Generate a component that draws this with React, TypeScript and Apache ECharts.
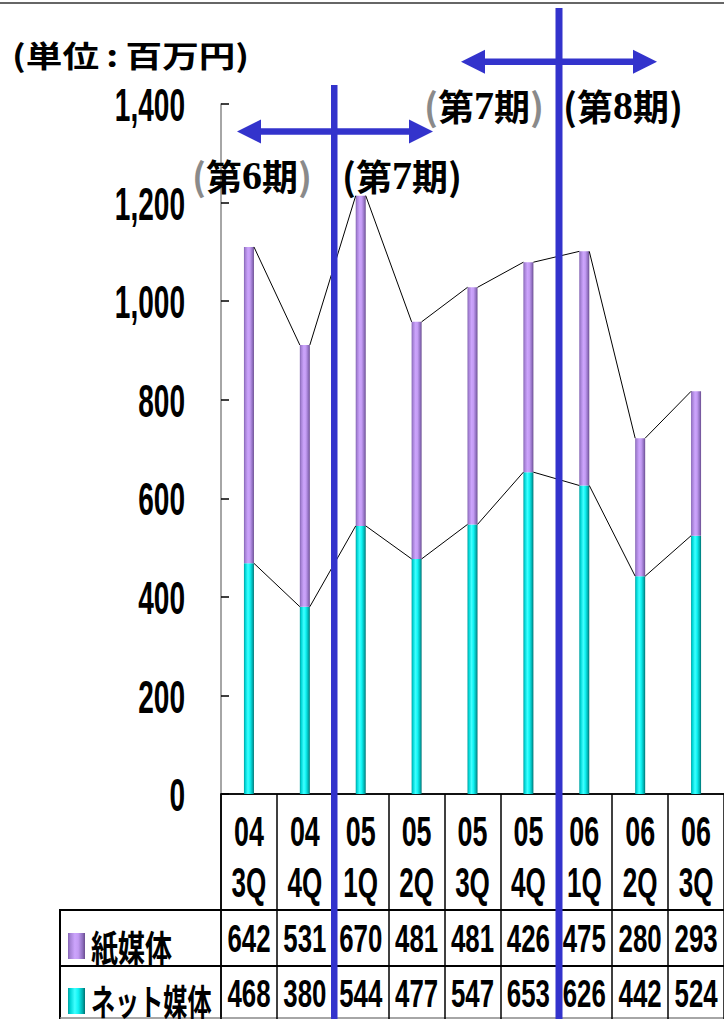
import React, { useEffect, useRef } from "react";
import * as echarts from "echarts";

const years = ["04", "04", "05", "05", "05", "05", "06", "06", "06"];
const quarters = ["3Q", "4Q", "1Q", "2Q", "3Q", "4Q", "1Q", "2Q", "3Q"];
const paper = [642, 531, 670, 481, 481, 426, 475, 280, 293];
const net = [468, 380, 544, 477, 547, 653, 626, 442, 524];
const seriesNames = ["紙媒体", "ネット媒体"];
const unitLabel = "(単位\u2009:\u2009百万円)";
const yMin = 0;
const yMax = 1400;
const yInterval = 200;

const NUM_FONT = "'Liberation Sans', Arial, sans-serif";
const JP_FONT = "'Noto Sans CJK JP', sans-serif";
const BLUE = "#3333CC";
const BAR_W = 10;

const purpleGrad = {
  type: "linear", x: 0, y: 0, x2: 1, y2: 0,
  colorStops: [
    { offset: 0, color: "#8464B4" },
    { offset: 0.15, color: "#A884D8" },
    { offset: 0.4, color: "#CCA4FC" },
    { offset: 0.6, color: "#C49CF4" },
    { offset: 0.85, color: "#9070C0" },
    { offset: 1, color: "#6A4C8E" },
  ],
};
const cyanGrad = {
  type: "linear", x: 0, y: 0, x2: 1, y2: 0,
  colorStops: [
    { offset: 0, color: "#00A0A0" },
    { offset: 0.15, color: "#00D8D8" },
    { offset: 0.4, color: "#40FFFF" },
    { offset: 0.6, color: "#10F4F4" },
    { offset: 0.85, color: "#00B0B0" },
    { offset: 1, color: "#007070" },
  ],
};

function periodLabel(x: number, y: number, num: string, parenColor: string) {
  return {
    type: "text",
    x,
    y,
    z: 12,
    style: {
      text: `{p|(}{c|第}{d|${num}}{c|期}{p|)}`,
      verticalAlign: "middle",
      rich: {
        p: { fontFamily: JP_FONT, fontSize: 37, fontWeight: "bold", fill: parenColor },
        c: { fontFamily: JP_FONT, fontSize: 36, fontWeight: "bold", fill: "#000" },
        d: { fontFamily: "'Liberation Serif', serif", fontSize: 40, fontWeight: "bold", fill: "#000" },
      },
    },
  };
}

function arrow(xl: number, xr: number, yc: number) {
  const head = 24;
  const hh = 12;
  return [
    { type: "rect", shape: { x: xl + head - 2, y: yc - 3.2, width: xr - xl - 2 * head + 4, height: 6.4 }, style: { fill: BLUE } },
    { type: "polygon", shape: { points: [[xl, yc], [xl + head, yc - hh], [xl + head, yc + hh]] }, style: { fill: BLUE } },
    { type: "polygon", shape: { points: [[xr, yc], [xr - head, yc - hh], [xr - head, yc + hh]] }, style: { fill: BLUE } },
  ];
}

function numText(x: number, y: number, text: string, size: number, sx: number, align: string) {
  return {
    type: "text",
    x,
    y,
    scaleX: sx,
    z: 5,
    style: {
      text,
      fontFamily: NUM_FONT,
      fontWeight: "bold",
      fontSize: size,
      lineHeight: size,
      fill: "#000",
      align,
      verticalAlign: "middle",
    },
  };
}

export default function App() {
  const ref = useRef<HTMLDivElement>(null);
  useEffect(() => {
    if (!ref.current) return;
    const chart = echarts.init(ref.current, null, { renderer: "svg" });
    const categories = years.map((y, i) => `${y}\n${quarters[i]}`);
    const totals = paper.map((p, i) => p + net[i]);
    const netLine = net.slice(0, -1).map((v, i) => [i, v, net[i + 1]]);
    const totalLine = totals.slice(0, -1).map((v, i) => [i, v, totals[i + 1]]);

    const renderSeg = (params: any, api: any) => {
      const i = api.value(0);
      const a = api.coord([i, api.value(1)]);
      const b = api.coord([i + 1, api.value(2)]);
      return {
        type: "line",
        shape: { x1: a[0] + BAR_W / 2, y1: a[1], x2: b[0] - BAR_W / 2, y2: b[1] },
        style: { stroke: "#000", lineWidth: 1 },
      };
    };

    const tableAxis = (data: string[], offset: number) => ({
      type: "category",
      data,
      position: "bottom",
      offset,
      axisLine: { show: true, lineStyle: { color: "#000", width: 2 } },
      axisTick: { show: true, interval: 0, alignWithLabel: false, length: 56, lineStyle: { color: "#000", width: 1.5 } },
      axisLabel: { show: false },
      splitLine: { show: false },
    });

    const option: any = {
      animation: false,
      backgroundColor: "#fff",
      grid: { left: 221, top: 104, width: 505, height: 690, containLabel: false },
      xAxis: [
        {
          type: "category",
          data: categories,
          position: "bottom",
          axisLine: { show: true, lineStyle: { color: "#111", width: 2 } },
          axisTick: { show: true, interval: 0, alignWithLabel: false, length: 116, lineStyle: { color: "#000", width: 1.5 } },
          axisLabel: { show: false },
          splitLine: { show: false },
        },
        tableAxis(paper.map(String), 116),
        tableAxis(net.map(String), 172),
      ],
      yAxis: {
        type: "value",
        min: yMin,
        max: yMax,
        interval: yInterval,
        axisLine: { show: true, lineStyle: { color: "#888", width: 1.5 } },
        axisTick: { show: true, inside: true, length: 8, lineStyle: { color: "#000", width: 1.5 } },
        axisLabel: { show: false },
        splitLine: { show: false },
      },
      series: [
        { name: seriesNames[1], type: "bar", stack: "total", barWidth: BAR_W, data: net, itemStyle: { color: cyanGrad }, z: 3 },
        { name: seriesNames[0], type: "bar", stack: "total", barWidth: BAR_W, data: paper, itemStyle: { color: purpleGrad }, z: 3 },
        { type: "custom", data: netLine, encode: { x: 0, y: 1 }, renderItem: renderSeg, z: 4, silent: true },
        { type: "custom", data: totalLine, encode: { x: 0, y: 1 }, renderItem: renderSeg, z: 4, silent: true },
      ],
    };
    chart.setOption(option);

    // labels positioned through the chart's own scales
    const labels: any[] = [];
    for (let v = yMin; v <= yMax; v += yInterval) {
      const y = chart.convertToPixel({ yAxisIndex: 0 }, v) as number;
      labels.push(numText(185, y + 1.5, v.toLocaleString("en-US"), 46, 0.61, "right"));
    }
    years.forEach((yr, i) => {
      const x = chart.convertToPixel({ xAxisIndex: 0 }, i) as number;
      labels.push(numText(x, 831, yr, 42, 0.64, "center"));
      labels.push(numText(x, 882, quarters[i], 42, 0.62, "center"));
      labels.push(numText(x, 939, String(paper[i]), 38, 0.68, "center"));
      labels.push(numText(x, 994, String(net[i]), 38, 0.68, "center"));
    });

    chart.setOption({
      graphic: [
        { type: "rect", shape: { x: 0, y: 2, width: 724, height: 2 }, style: { fill: "#666" } },
        {
          type: "text",
          x: 12,
          y: 54,
          scaleX: 1.22,
          style: { text: unitLabel, fontFamily: JP_FONT, fontSize: 30, lineHeight: 32, fontWeight: "bold", fill: "#000", verticalAlign: "middle" },
        },
        // table left part
        { type: "line", shape: { x1: 60, y1: 910, x2: 221, y2: 910 }, style: { stroke: "#000", lineWidth: 2 } },
        { type: "line", shape: { x1: 60, y1: 966, x2: 221, y2: 966 }, style: { stroke: "#000", lineWidth: 2 } },
        { type: "line", shape: { x1: 60, y1: 909, x2: 60, y2: 1019 }, style: { stroke: "#000", lineWidth: 2 } },
        { type: "line", shape: { x1: 221, y1: 794, x2: 221, y2: 1019 }, style: { stroke: "#000", lineWidth: 1.5 } },
        { type: "line", shape: { x1: 60, y1: 1018, x2: 724, y2: 1018 }, style: { stroke: "#888", lineWidth: 1.5 } },
        // row headers
        { type: "rect", shape: { x: 68, y: 933, width: 17, height: 26 }, style: { fill: purpleGrad } },
        { type: "rect", shape: { x: 68, y: 988, width: 17, height: 26 }, style: { fill: cyanGrad } },
        {
          type: "text", x: 91, y: 946, scaleX: 0.75,
          style: { text: seriesNames[0], fontFamily: JP_FONT, fontSize: 36, lineHeight: 30, fontWeight: "bold", fill: "#000", verticalAlign: "middle" },
        },
        {
          type: "text", x: 91, y: 1000, scaleX: 0.67,
          style: { text: seriesNames[1], fontFamily: JP_FONT, fontSize: 36, lineHeight: 30, fontWeight: "bold", fill: "#000", verticalAlign: "middle" },
        },
        ...labels,
        // period dividers
        { type: "rect", shape: { x: 331, y: 85, width: 6.5, height: 940 }, style: { fill: BLUE }, z: 10 },
        { type: "rect", shape: { x: 555.5, y: 8, width: 7, height: 1020 }, style: { fill: BLUE }, z: 10 },
        ...arrow(237, 433, 131.5).map((e) => ({ ...e, z: 10 })),
        ...arrow(461, 657, 61.7).map((e) => ({ ...e, z: 10 })),
        periodLabel(192, 175, "6", "#8A8A8A"),
        periodLabel(342, 175, "7", "#000"),
        periodLabel(424, 105, "7", "#8A8A8A"),
        periodLabel(563, 105, "8", "#000"),
      ],
    });
    return () => chart.dispose();
  }, []);
  return (
    <div
      ref={ref}
      style={{ position: "fixed", left: 0, top: 0, width: 724, height: 1019, background: "#fff" }}
    />
  );
}
